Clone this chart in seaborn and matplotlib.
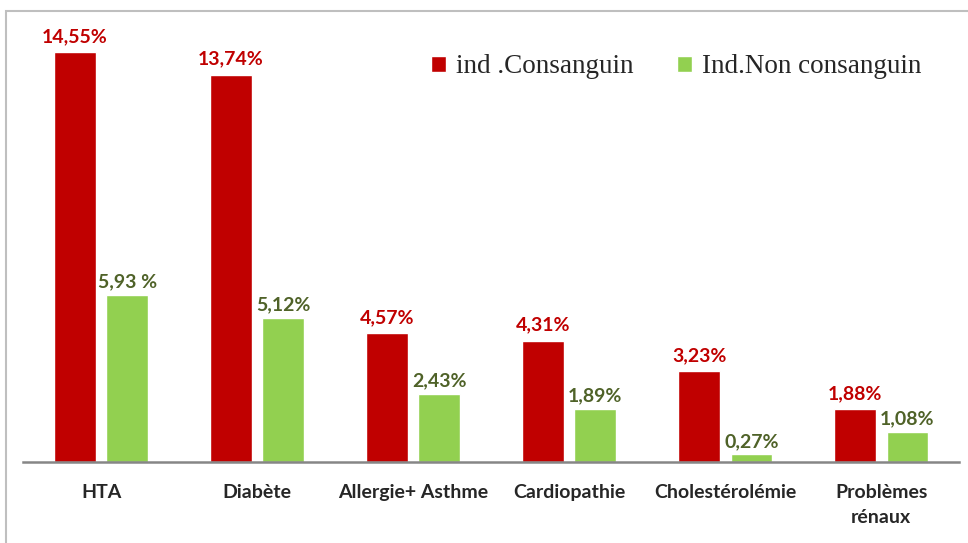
import pandas as pd
import matplotlib
matplotlib.use("Agg")
import matplotlib.pyplot as plt
import seaborn as sns
from matplotlib.patches import Rectangle
from matplotlib.transforms import ScaledTranslation

# data
categories = ["HTA", "Diabète", "Allergie+ Asthme", "Cardiopathie",
              "Cholestérolémie", "Problèmes\nrénaux"]
consanguin = [14.55, 13.74, 4.57, 4.31, 3.23, 1.88]
non_consanguin = [5.93, 5.12, 2.43, 1.89, 0.27, 1.08]
labels_cons = ["14,55%", "13,74%", "4,57%", "4,31%", "3,23%", "1,88%"]
labels_non = ["5,93 %", "5,12%", "2,43%", "1,89%", "0,27%", "1,08%"]
series = ["ind .Consanguin", "Ind.Non consanguin"]

df = pd.DataFrame({
    "cat": categories * 2,
    "val": consanguin + non_consanguin,
    "serie": [series[0]] * 6 + [series[1]] * 6,
})

sns.set_style("white")
plt.rcParams["font.family"] = ["Lato", "DejaVu Sans"]

fig = plt.figure(figsize=(9.68, 5.43), dpi=100)
ax = fig.add_axes([0.024, 0.149, 0.967, 0.831])

sns.barplot(data=df, x="cat", y="val", hue="serie",
            palette=["#C00000", "#92D050"], width=0.67, gap=0.2,
            saturation=1, ax=ax)

ax.set_ylim(0, 16)
ax.set_xlim(-0.5, 5.5)
ax.set_xlabel("")
ax.set_ylabel("")
ax.set_yticks([])
for s in ["top", "right", "left"]:
    ax.spines[s].set_visible(False)
ax.spines["bottom"].set_color("#868686")
ax.spines["bottom"].set_linewidth(1.8)
ax.tick_params(axis="x", length=0, pad=16)
for t in ax.get_xticklabels():
    t.set_fontweight("bold")
    t.set_fontsize(14)
    t.set_linespacing(1.55)

# value labels
ax.bar_label(ax.containers[0], labels=labels_cons, padding=5,
             color="#C00000", fontweight="bold", fontsize=14)
ax.bar_label(ax.containers[1], labels=labels_non, padding=3,
             color="#4F6228", fontweight="bold", fontsize=14)
shift = ScaledTranslation(8 / 100, 0, fig.dpi_scale_trans)
for t in ax.texts[6:]:
    t.set_transform(t.get_transform() + shift)

leg = ax.legend(ncol=2, loc="center left", bbox_to_anchor=(0.4357, 0.876),
                frameon=False, prop={"family": "Liberation Serif", "size": 19.5},
                handlelength=0.55, handleheight=0.55, columnspacing=1.6,
                handletextpad=0.37, borderpad=0, borderaxespad=0)

# outer chart border
fig.patches.append(Rectangle((6 / 968, -0.1), 1.2, 1 - 11 / 543 + 0.1,
                             transform=fig.transFigure, fill=False,
                             edgecolor="#BFBFBF", linewidth=1.5))

fig.savefig("out.png", dpi=100)
